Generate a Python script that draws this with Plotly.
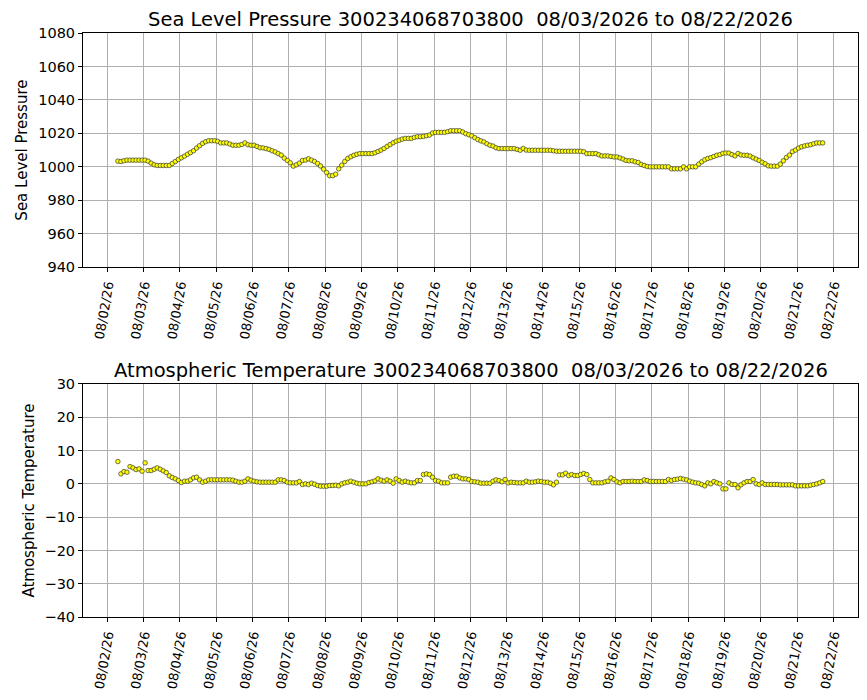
import pandas as pd
import plotly.graph_objects as go
from plotly.subplots import make_subplots

# --- datos (lecturas cada 2 horas) ---
buoy_id = "300234068703800"
fecha_ini = "08/03/2026"
fecha_fin = "08/22/2026"
t0 = "2026-08-02 07:00"

presion = [
    1003.4, 1003.2, 1003.6, 1004.0, 1004.0, 1004.0, 1004.0, 1004.0, 1004.0, 1004.0,
    1003.4, 1002.2, 1001.2, 1000.8, 1000.8, 1000.8, 1000.8, 1000.8, 1002.0, 1003.2,
    1004.4, 1005.4, 1006.4, 1007.5, 1008.5, 1009.6, 1011.2, 1012.6, 1014.0, 1015.0,
    1015.6, 1015.6, 1015.6, 1015.2, 1014.3, 1014.3, 1014.3, 1013.6, 1012.9, 1012.9,
    1012.9, 1013.4, 1014.3, 1013.2, 1012.9, 1012.9, 1012.2, 1011.4, 1011.3, 1010.9,
    1010.4, 1009.6, 1008.9, 1007.9, 1007.0, 1005.2, 1003.8,
    1002.4, 1000.4, 1001.2, 1002.2, 1003.8, 1004.0, 1004.8, 1004.0, 1003.2, 1002.0,
    1000.5, 998.6, 996.6, 994.7, 994.7, 995.6, 998.8, 1001.0, 1003.2, 1005.0,
    1006.0, 1006.9, 1007.5, 1007.9, 1007.9, 1007.9, 1007.9, 1007.9, 1008.4, 1009.2,
    1010.0, 1011.0, 1012.2, 1013.3, 1014.4, 1015.3, 1015.9, 1016.6, 1017.0, 1017.0,
    1017.0, 1017.6, 1018.0, 1018.0, 1018.2, 1018.6, 1019.0, 1020.2, 1020.6, 1020.6,
    1020.6, 1020.6, 1021.0, 1021.6, 1021.6, 1021.6, 1021.6, 1020.8, 1019.8, 1019.2,
    1018.5, 1017.4, 1016.3, 1015.5, 1014.9, 1013.8, 1012.9, 1012.4, 1011.4, 1010.9,
    1010.9, 1010.9, 1010.9, 1010.9, 1010.9, 1010.4, 1009.9, 1011.0, 1010.0, 1009.9,
    1009.9, 1009.9, 1009.9, 1009.9, 1009.9, 1009.9, 1009.9, 1009.6, 1009.3, 1009.3,
    1009.3, 1009.3, 1009.3, 1009.3, 1009.3, 1009.3, 1009.3, 1009.0, 1007.9, 1007.9,
    1007.9, 1007.9, 1007.2, 1006.5, 1006.5, 1006.5, 1006.2, 1005.9, 1005.9, 1005.3,
    1004.6, 1003.8, 1003.6, 1003.6, 1003.0, 1002.6, 1001.4, 1000.8, 1000.2,
    1000.0, 1000.0, 1000.0, 1000.0, 1000.0, 1000.0, 1000.0, 998.8, 998.8, 998.8,
    998.8, 1000.0, 998.8, 1000.0, 1000.0, 1000.0, 1001.6, 1003.0, 1004.2, 1005.0,
    1005.5, 1006.2, 1006.9, 1007.3, 1008.1, 1008.3, 1008.2, 1007.3, 1006.5, 1008.0,
    1007.1, 1006.9, 1006.9, 1006.4, 1005.4, 1004.6, 1003.8, 1002.7, 1001.8, 1000.6,
    1000.4, 1000.4, 1000.4, 1001.6, 1003.6, 1005.6, 1007.0, 1009.1, 1010.0, 1011.2,
    1012.0, 1012.5, 1012.9, 1013.2, 1013.8, 1014.3, 1014.3, 1014.3,
]

temperatura = [
    6.7, 3.0, 3.7, 3.5, 5.2, 4.8, 4.3, 4.5, 3.8, 6.3,
    4.0, 4.0, 4.4, 4.8, 4.4, 3.9, 3.4, 2.4, 1.9, 1.5,
    1.0, 0.4, 0.8, 0.8, 1.2, 1.8, 2.0, 1.2, 0.5, 0.8,
    1.2, 1.2, 1.2, 1.2, 1.2, 1.2, 1.2, 1.2, 1.1, 0.8,
    0.5, 0.5, 0.8, 1.5, 1.1, 0.8, 0.6, 0.5, 0.5, 0.5,
    0.5, 0.5, 0.5, 1.2, 1.2, 1.0, 0.5,
    0.3, 0.3, 0.3, 0.7, -0.2, 0.0, -0.2, 0.2, -0.1, -0.5,
    -0.7, -0.7, -0.7, -0.5, -0.5, -0.4, -0.6, 0.0, 0.3, 0.5,
    0.8, 0.5, 0.2, 0.0, 0.0, 0.0, 0.4, 0.6, 0.9, 1.5,
    1.1, 0.8, 1.2, 0.8, 0.2, 1.5, 1.0, 0.5, 0.8, 0.5,
    0.3, 0.3, 1.0, 1.0, 2.8, 3.0, 2.8, 2.0, 1.0, 0.8,
    0.3, 0.3, 0.3, 2.0, 2.3, 2.3, 1.8, 1.5, 1.5, 1.3,
    0.7, 0.6, 0.5, 0.2, 0.2, 0.2, 0.2, 0.8, 1.2, 1.0,
    0.6, 1.3, 0.3, 0.5, 0.4, 0.3, 0.3, 0.3, 0.8, 0.5,
    0.5, 0.6, 0.8, 0.7, 0.5, 0.5, 0.2, -0.3, 0.5, 2.7,
    2.7, 3.2, 2.5, 2.8, 2.5, 2.5, 2.8, 3.1, 2.8, 1.3,
    0.3, 0.3, 0.3, 0.3, 0.6, 0.8, 1.8, 1.3, 0.6, 0.3,
    0.7, 0.7, 0.7, 0.8, 0.7, 0.7, 0.7, 1.2, 1.0,
    0.7, 0.7, 0.7, 0.7, 0.7, 0.7, 1.3, 1.0, 1.3, 1.4,
    1.6, 1.4, 1.2, 0.8, 0.5, 0.3, 0.2, -0.2, -0.6, 0.3,
    0.0, 0.7, 0.3, 0.0, -1.5, -1.5, 0.3, -0.2, -0.2, -1.2,
    -0.3, 0.3, 0.7, 0.7, 1.3, 0.0, -0.2, 0.3, -0.2, -0.2,
    -0.2, -0.2, -0.2, -0.3, -0.3, -0.3, -0.3, -0.3, -0.6, -0.6,
    -0.6, -0.6, -0.6, -0.4, -0.2, 0.0, 0.3, 0.7,
]

fechas = pd.date_range(t0, periods=len(presion), freq="2h")

rango_x = ["2026-08-01 07:56", "2026-08-22 16:20"]
rango_p = [940, 1080]
rango_t = [-40, 30]

sp = "\u00a0"
titulos = [
    f"Sea Level Pressure {buoy_id} {sp}{fecha_ini} to {fecha_fin}",
    f"Atmospheric Temperature {buoy_id} {sp}{fecha_ini} to {fecha_fin}",
]

# --- grafico ---
fig = make_subplots(rows=2, cols=1, vertical_spacing=0.2)

marcador = dict(color="yellow", size=4.5, line=dict(color="#333333", width=0.7))

fig.add_trace(go.Scatter(x=fechas, y=presion, mode="markers", marker=marcador,
                         showlegend=False), row=1, col=1)
fig.add_trace(go.Scatter(x=fechas, y=temperatura, mode="markers", marker=marcador,
                         showlegend=False), row=2, col=1)

ejes = dict(showline=True, linecolor="black", linewidth=1, mirror=True,
            ticks="outside", ticklen=4, tickcolor="black", automargin=False,
            showgrid=True, gridcolor="#b0b0b0", gridwidth=1, zeroline=False,
            tickfont=dict(size=14.5, color="black"))

fig.update_xaxes(**ejes)
fig.update_yaxes(**ejes)
fig.update_xaxes(range=rango_x, dtick=86400000, tick0="2026-08-02",
                 tickformat="%m/%d/%y", tickangle=-80,
                 tickfont=dict(size=13, color="black"))

fig.update_xaxes(domain=[0, 1])
fig.update_yaxes(row=1, col=1, range=rango_p, dtick=20, domain=[0.599, 1],
                 title=dict(text="Sea Level Pressure", font=dict(size=15, color="black"),
                            standoff=6))
fig.update_yaxes(row=2, col=1, range=rango_t, dtick=10, domain=[0, 0.399],
                 title=dict(text="Atmospheric Temperature", font=dict(size=15, color="black"),
                            standoff=6))

# la pagina tiene 8px de margen en el body
fig.update_layout(
    width=859, height=692,
    margin=dict(l=75, r=9, t=25, b=83),
    plot_bgcolor="white", paper_bgcolor="white",
    font=dict(family="DejaVu Sans", color="black"),
    annotations=[
        dict(text=titulos[0], x=0.5, y=1, xref="paper", yref="paper",
             xanchor="center", yanchor="bottom", yshift=1, borderpad=0,
             showarrow=False, font=dict(size=19.5, color="black")),
        dict(text=titulos[1], x=0.5, y=0.399, xref="paper", yref="paper",
             xanchor="center", yanchor="bottom", yshift=1, borderpad=0,
             showarrow=False, font=dict(size=19.5, color="black")),
    ],
)

fig.write_html("out.html")
